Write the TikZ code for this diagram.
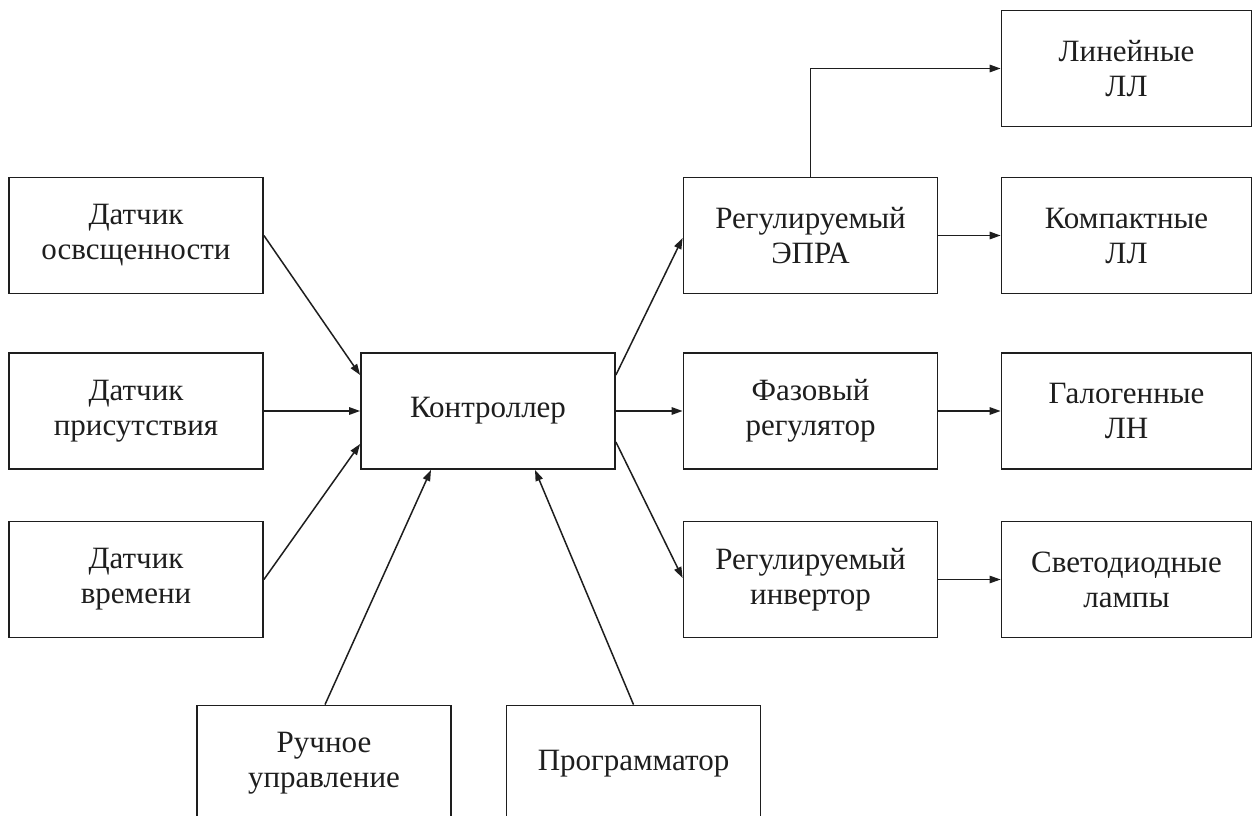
\documentclass[tikz,border=0pt]{standalone}
\usepackage{fontspec}
\setmainfont{Liberation Serif}
\usetikzlibrary{arrows.meta}
\definecolor{ink}{HTML}{1E1E1E}
\tikzset{
  blk/.style={draw=ink, line width=1.8pt, rectangle, inner sep=0pt,
    minimum width=254pt, minimum height=116pt, align=center,
    text=ink, font=\fontsize{31}{35}\selectfont},
  lamp/.style={blk, minimum width=250pt},
  link/.style={draw=ink, line width=1.5pt,
    -{Triangle[length=11pt,width=7.5pt]}},
  thinlink/.style={link, line width=1pt}
}
\begin{document}
\begin{tikzpicture}[x=1pt,y=-1pt]
\useasboundingbox (0,0) rectangle (1253,816);
\fill[white] (0,0) rectangle (1253,816);

% inputs
\node[blk] (s1) at (136,235.5) {Датчик\\освсщенности};
\node[blk] (s2) at (136,411) {Датчик\\присутствия};
\node[blk] (s3) at (136,579.5) {Датчик\\времени};
\node[blk] (man) at (324,763.5) {Ручное\\управление};
\node[blk] (prog) at (633.5,763.5) {Программатор};

% controller
\node[blk] (ctrl) at (488,411) {Контроллер};

% dimming drivers
\node[blk] (epra) at (810.5,235.5) {Регулируемый\\ЭПРА};
\node[blk] (phase) at (810.5,411) {Фазовый\\регулятор};
\node[blk] (inv) at (810.5,579.5) {Регулируемый\\инвертор};

% lamp types
\node[lamp] (lin) at (1126.5,68.5) {Линейные\\ЛЛ};
\node[lamp] (comp) at (1126.5,235.5) {Компактные\\ЛЛ};
\node[lamp] (hal) at (1126.5,411) {Галогенные\\ЛН};
\node[lamp] (led) at (1126.5,579.5) {Светодиодные\\лампы};

% signals into the controller
\draw[link] (s1.east) -- ([yshift=36pt]ctrl.west);
\draw[link] (s2.east) -- (ctrl.west);
\draw[link] (s3.east) -- ([yshift=-33pt]ctrl.west);
\draw[link] ([xshift=1pt]man.north) -- ([xshift=-57pt]ctrl.south);
\draw[link] (prog.north) -- ([xshift=47pt]ctrl.south);

% controller to drivers
\draw[link] ([yshift=36pt]ctrl.east) -- ([yshift=-2.5pt]epra.west);
\draw[link] (ctrl.east) -- (phase.west);
\draw[link] ([yshift=-31pt]ctrl.east) -- ([yshift=1.5pt]inv.west);

% drivers to lamps
\draw[link] (epra.north) |- (lin.west);
\draw[link] (epra.east) -- (comp.west);
\draw[link] (phase.east) -- (hal.west);
\draw[thinlink] (inv.east) -- (led.west);
\end{tikzpicture}
\end{document}
